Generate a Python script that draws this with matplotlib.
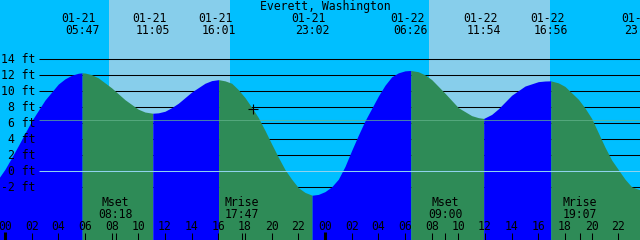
import numpy as np
import matplotlib.pyplot as plt

# tide height (ft), hours counted from 01-21 00:00
hours = np.array([-0.5, 0, 0.5, 1, 2, 3, 4, 4.5, 5, 5.5, 5.783, 6, 6.5, 7, 8, 9, 10, 10.5, 11.083,
                  11.5, 12, 12.5, 13, 14, 15, 15.5, 16.017, 16.5, 17, 17.5, 18, 18.6, 19, 19.5,
                  20, 20.5, 21, 21.5, 22, 22.5, 23.033, 23.5, 24, 24.5, 25, 25.5, 26, 26.5,
                  27, 28, 28.5, 29, 29.5, 30, 30.433, 31, 31.5, 32, 33, 34, 35, 35.5, 35.9,
                  36.5, 37, 38, 39, 40, 40.5, 40.933, 41.5, 42, 43, 43.5, 44, 44.5, 45, 45.5,
                  46, 46.5, 47, 47.75])
feet = np.array([-0.95, 0.25, 1.7, 3.2, 6.3, 8.9, 10.9, 11.55, 12.0, 12.25, 12.3, 12.28, 12.07, 11.67, 10.42, 8.94, 7.75, 7.4, 7.25,
                 7.3, 7.5, 7.95, 8.5, 9.9, 11.0, 11.33, 11.45, 11.3, 11.0, 10.2, 9.2, 7.75, 6.7, 5.1,
                 3.4, 1.75, 0.2, -1.0, -2.05, -2.65, -3.0, -2.9, -2.55, -1.95, -1.0, 0.6, 2.6, 4.5,
                 6.3, 9.4, 10.75, 11.8, 12.3, 12.55, 12.6, 12.44, 12.05, 11.46, 9.75, 7.95, 6.95, 6.7, 6.6,
                 7.1, 7.8, 9.5, 10.65, 11.2, 11.28, 11.3, 11.05, 10.6, 9.0, 7.9, 6.6, 4.8, 3.0, 1.4,
                 0.2, -1.0, -1.95, -2.4])

# highs and lows
ext_date = ['01-21', '01-21', '01-21', '01-21', '01-22', '01-22', '01-22', '01-22']
ext_time = ['05:47', '11:05', '16:01', '23:02', '06:26', '11:54', '16:56', '23:45']

# moon events
moon_name = ['Mset', 'Mrise', 'Mset', 'Mrise']
moon_date = ['01-21', '01-21', '01-22', '01-22']
moon_time = ['08:18', '17:47', '09:00', '19:07']

# daylight
day_date = ['01-21', '01-22']
day_start = ['07:48', '07:48']
day_end = ['16:53', '16:52']

levels = [14, 12, 10, 8, 6, 4, 2, 0, -2]
mean_level = 6.35
now_hour, now_feet = 18.6, 7.75

NIGHT = '#00bfff'
DAY = '#87ceeb'
FLOOD = '#0000ff'
EBB = '#2e8b57'
FONT = dict(family='DejaVu Sans Mono', fontsize=8.3, color='black')


def to_hours(date, clock):
    hh, mm = clock.split(':')
    return 24 * (int(date[3:]) - 21) + int(hh) + int(mm) / 60


fig = plt.figure(figsize=(6.4, 2.4), dpi=100)
ax = fig.add_axes([0, 0, 1, 1])
ax.set_facecolor(NIGHT)
for s in ax.spines.values():
    s.set_visible(False)
ax.set_xticks([])
ax.set_yticks([])
ax.set_xlim(-0.375, 47.625)
ax.set_ylim(-8.6, 21.41)

# daylight bands
for d, a, b in zip(day_date, day_start, day_end):
    ax.axvspan(to_hours(d, a), to_hours(d, b), color=DAY, lw=0, zorder=0)

# grid lines
x0 = 2.55
ax.hlines([l for l in levels if l != 0], x0, 48, color='black', lw=0.75, zorder=1)

# water, blue while rising, green while falling
ext_hours = [to_hours(d, t) for d, t in zip(ext_date, ext_time)]
cuts = [0] + [int(np.argmin(abs(hours - h))) for h in ext_hours] + [len(hours) - 1]
cuts = sorted(set(cuts))
for i0, i1 in zip(cuts[:-1], cuts[1:]):
    seg_h, seg_f = hours[i0:i1 + 1], feet[i0:i1 + 1]
    rising = seg_f[-1] > seg_f[0]
    ax.fill_between(seg_h, seg_f, -10, color=FLOOD if rising else EBB,
                    lw=0, zorder=2)

# datum and mean level lines
ax.hlines(0, x0, 48, color='#8fd3ee', lw=0.75, zorder=3)
ax.hlines(mean_level, x0, 48, color='#64b48c', alpha=0.7, lw=0.75, zorder=3)

# level labels
for l in levels:
    ax.text(2.25, l - 0.46, f'{l} ft', ha='right', va='baseline', zorder=4, **FONT)

# title and high/low labels
ax.text(24, 20.22, 'Everett, Washington', ha='center', va='baseline', **FONT)
for h, d, t in zip(ext_hours, ext_date, ext_time):
    ax.text(h - 0.26, 18.66, d, ha='center', va='baseline', **FONT)
    ax.text(h, 17.125, t, ha='center', va='baseline', **FONT)

# hour ticks along the bottom
tick_hours = list(range(0, 48, 2))
for h in tick_hours:
    ax.text(h, -7.34, f'{h % 24:02d}', ha='center', va='baseline', zorder=4, **FONT)
ax.vlines(tick_hours, -7.75, -9, color='black', lw=0.75, zorder=4)
ax.vlines([0, 24], -7.6, -9, color='black', lw=2.2, zorder=4)

# moon events
for n, d, t in zip(moon_name, moon_date, moon_time):
    h = to_hours(d, t)
    ax.text(h, -4.34, n, ha='center', va='baseline', zorder=4, **FONT)
    ax.text(h, -5.84, t, ha='center', va='baseline', zorder=4, **FONT)
    ax.vlines(h, -7.75, -9, color='black', lw=0.75, zorder=4)

ax.plot(now_hour, now_feet, marker='+', ms=6.5, mew=0.8, color='black', zorder=5)

fig.savefig('out.png', dpi=100, facecolor=NIGHT)
